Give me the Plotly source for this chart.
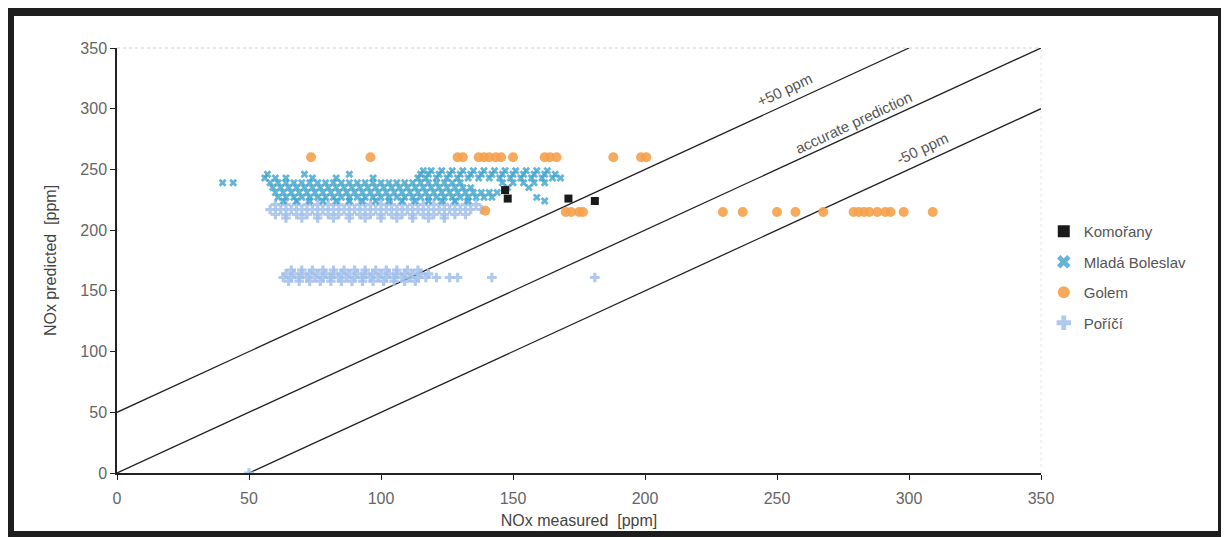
import plotly.graph_objects as go

# ---------------- data ----------------
komorany_x = [147, 148, 171, 181]
komorany_y = [233, 226, 226, 224]

golem_x = [73.5, 96, 129, 131, 137, 139, 141, 143.5, 145.5, 150, 162, 164, 166.5, 188, 198.5, 200.5,
           139.5, 170, 172, 175, 176.5,
           229.5, 237, 250, 257, 267.5, 279, 281, 283, 285, 288, 291, 293, 298, 309]
golem_y = [260, 260, 260, 260, 260, 260, 260, 260, 260, 260, 260, 260, 260, 260, 260, 260,
           216, 215, 215, 215, 215,
           215, 215, 215, 215, 215, 215, 215, 215, 215, 215, 215, 215, 215, 215]

# Mladá Boleslav: rows of measured values at a given predicted level
mb_rows = {
    249: [116, 119, 123, 127, 131, 135, 139, 143, 147, 151, 155, 159, 163],
    246: [57, 71, 88, 115, 118, 122, 126, 130, 134, 138, 142, 146, 150, 154, 158, 162, 166],
    243: [56, 60, 64, 74, 83, 97, 114, 117, 121, 125, 129, 133, 137, 141, 145, 149, 153, 157, 161, 165, 168],
    239: [40, 44, 58, 61, 64, 67, 70, 73, 76, 79, 82, 85, 88, 91, 94, 97, 100, 103, 106, 109, 112, 115,
          118, 121, 124, 127, 130, 146, 150, 154, 158, 162],
    235: [59, 62, 65, 68, 71, 74, 77, 80, 83, 86, 89, 92, 95, 98, 101, 104, 107, 110, 113, 116, 119, 122,
          125, 128, 131, 134, 148, 156],
    231: [60, 63, 66, 69, 72, 75, 78, 81, 84, 87, 90, 93, 96, 99, 102, 105, 108, 111, 114, 117, 120, 123,
          126, 129, 132, 135, 138, 141, 144],
    227: [61, 64, 67, 70, 73, 76, 79, 82, 85, 88, 91, 94, 97, 100, 103, 106, 109, 112, 115, 118, 121, 124,
          127, 130, 133, 136, 139, 142, 159],
    224: [63, 68, 73, 78, 83, 88, 93, 98, 103, 108, 113, 118, 123, 128, 133, 162],
}

# Poříčí
po_rows = {
    221: [60, 64, 68, 72, 76, 80, 84, 88, 92, 96, 100, 104, 108, 112, 116, 120, 124, 128, 132, 136],
    217: [58, 62, 66, 70, 74, 78, 82, 86, 90, 94, 98, 102, 106, 110, 114, 118, 122, 126, 130, 134, 138],
    213: [60, 64, 68, 72, 76, 80, 84, 88, 92, 96, 100, 104, 108, 112, 116, 120, 124, 128, 132],
    210: [64, 70, 76, 82, 88, 94, 100, 106, 112, 118, 124],
    167: [66, 70, 74, 78, 82, 86, 90, 94, 98, 102, 106, 110, 114],
    164: [64, 67, 70, 73, 76, 79, 82, 85, 88, 91, 94, 97, 100, 103, 106, 109, 112, 115, 118],
    161: [63, 66, 69, 72, 75, 78, 81, 84, 87, 90, 93, 96, 99, 102, 105, 108, 111, 114, 117, 121, 126,
          129, 142, 181],
    158: [65, 69, 73, 77, 81, 85, 89, 93, 97, 101, 105, 109, 113],
    0: [50],
}

mb_x = [x for y, xs in mb_rows.items() for x in xs]
mb_y = [y for y, xs in mb_rows.items() for x in xs]
po_x = [x for y, xs in po_rows.items() for x in xs]
po_y = [y for y, xs in po_rows.items() for x in xs]

ref_lines = {
    "plus50": ([0, 300], [50, 350]),
    "accurate": ([0, 350], [0, 350]),
    "minus50": ([50, 350], [0, 300]),
}

x_ticks = [0, 50, 100, 150, 200, 250, 300, 350]
y_ticks = [0, 50, 100, 150, 200, 250, 300, 350]

# ---------------- figure ----------------
fig = go.Figure()

for name, (lx, ly) in ref_lines.items():
    fig.add_trace(go.Scatter(x=lx, y=ly, mode="lines", showlegend=False,
                             line=dict(color="#222222", width=1.3), hoverinfo="skip"))

fig.add_trace(go.Scatter(x=po_x, y=po_y, mode="markers", name="Poříčí", legendgroup="d", legendrank=4,
                         marker=dict(symbol="cross", size=8, color="#A2C0EA", opacity=0.85)))
fig.add_trace(go.Scatter(x=mb_x, y=mb_y, mode="markers", name="Mladá Boleslav", legendgroup="b", legendrank=2,
                         marker=dict(symbol="x", size=7, color="#3FA3CC", opacity=0.8)))
fig.add_trace(go.Scatter(x=golem_x, y=golem_y, mode="markers", name="Golem", legendgroup="c", legendrank=3,
                         marker=dict(symbol="circle", size=10, color="#F5A14C", opacity=0.9)))
fig.add_trace(go.Scatter(x=komorany_x, y=komorany_y, mode="markers", name="Komořany", legendgroup="a",
                         legendrank=1, marker=dict(symbol="square", size=8, color="#1A1A1A")))

font_main = "Liberation Sans, Arial, sans-serif"

annotations = [
    dict(x=253, y=316, text="+50 ppm", showarrow=False, textangle=-25,
         font=dict(size=15, color="#555", family=font_main)),
    dict(x=279, y=289, text="accurate prediction", showarrow=False, textangle=-25,
         font=dict(size=15, color="#555", family=font_main)),
    dict(x=305, y=267, text="-50 ppm", showarrow=False, textangle=-25,
         font=dict(size=15, color="#555", family=font_main)),
]

# page pixel -> paper coordinates (plot area spans page x 117..1041, y 48..473)
def px2x(p):
    return (p - 117) / 924.0

def px2y(p):
    return (473 - p) / 425.0

shapes = [
    dict(type="line", xref="paper", yref="paper", x0=0, x1=1, y0=1, y1=1,
         line=dict(color="#d0d0d0", width=1, dash="dot")),
    dict(type="line", xref="paper", yref="paper", x0=1, x1=1, y0=0, y1=1,
         line=dict(color="#e4e4e4", width=1, dash="dot")),
    # scanned black frame
    dict(type="rect", xref="paper", yref="paper", x0=px2x(5), x1=px2x(1229), y0=px2y(16), y1=px2y(5),
         fillcolor="#1e1e1e", line=dict(width=0), layer="above"),
    dict(type="rect", xref="paper", yref="paper", x0=px2x(5), x1=px2x(14), y0=px2y(537), y1=px2y(5),
         fillcolor="#1e1e1e", line=dict(width=0), layer="above"),
    dict(type="rect", xref="paper", yref="paper", x0=px2x(1218), x1=px2x(1229), y0=px2y(537), y1=px2y(5),
         fillcolor="#1e1e1e", line=dict(width=0), layer="above"),
    dict(type="rect", xref="paper", yref="paper", x0=px2x(5), x1=px2x(1229), y0=px2y(537), y1=px2y(531),
         fillcolor="#1e1e1e", line=dict(width=0), layer="above"),
]

fig.update_layout(
    width=1229, height=537,
    margin=dict(l=109, r=196, t=40, b=72),
    paper_bgcolor="white", plot_bgcolor="white",
    font=dict(family=font_main, size=16, color="#444"),
    showlegend=True,
    legend=dict(x=1.003, y=0.607, xanchor="left", yanchor="top",
                traceorder="grouped", tracegroupgap=8,
                font=dict(size=15, color="#555"), bgcolor="rgba(0,0,0,0)",
                itemsizing="constant"),
    annotations=annotations,
    shapes=shapes,
    xaxis=dict(range=[0, 350], tickvals=x_ticks, ticktext=[str(v) for v in x_ticks],
               showgrid=False, zeroline=False, showline=True, linecolor="#222", linewidth=1.5,
               ticks="outside", ticklen=5, tickcolor="#222", ticklabelstandoff=5,
               title=dict(text="NOx measured  [ppm]", standoff=9, font=dict(size=16, color="#444")),
               tickfont=dict(size=16, color="#666")),
    yaxis=dict(range=[0, 350], tickvals=y_ticks, ticktext=[str(v) for v in y_ticks],
               showgrid=False, zeroline=False, showline=True, linecolor="#222", linewidth=1.5,
               ticks="outside", ticklen=5, tickcolor="#222",
               title=dict(text="NOx predicted  [ppm]", standoff=20, font=dict(size=16, color="#444")),
               tickfont=dict(size=16, color="#666")),
)

fig.write_html("out.html")
